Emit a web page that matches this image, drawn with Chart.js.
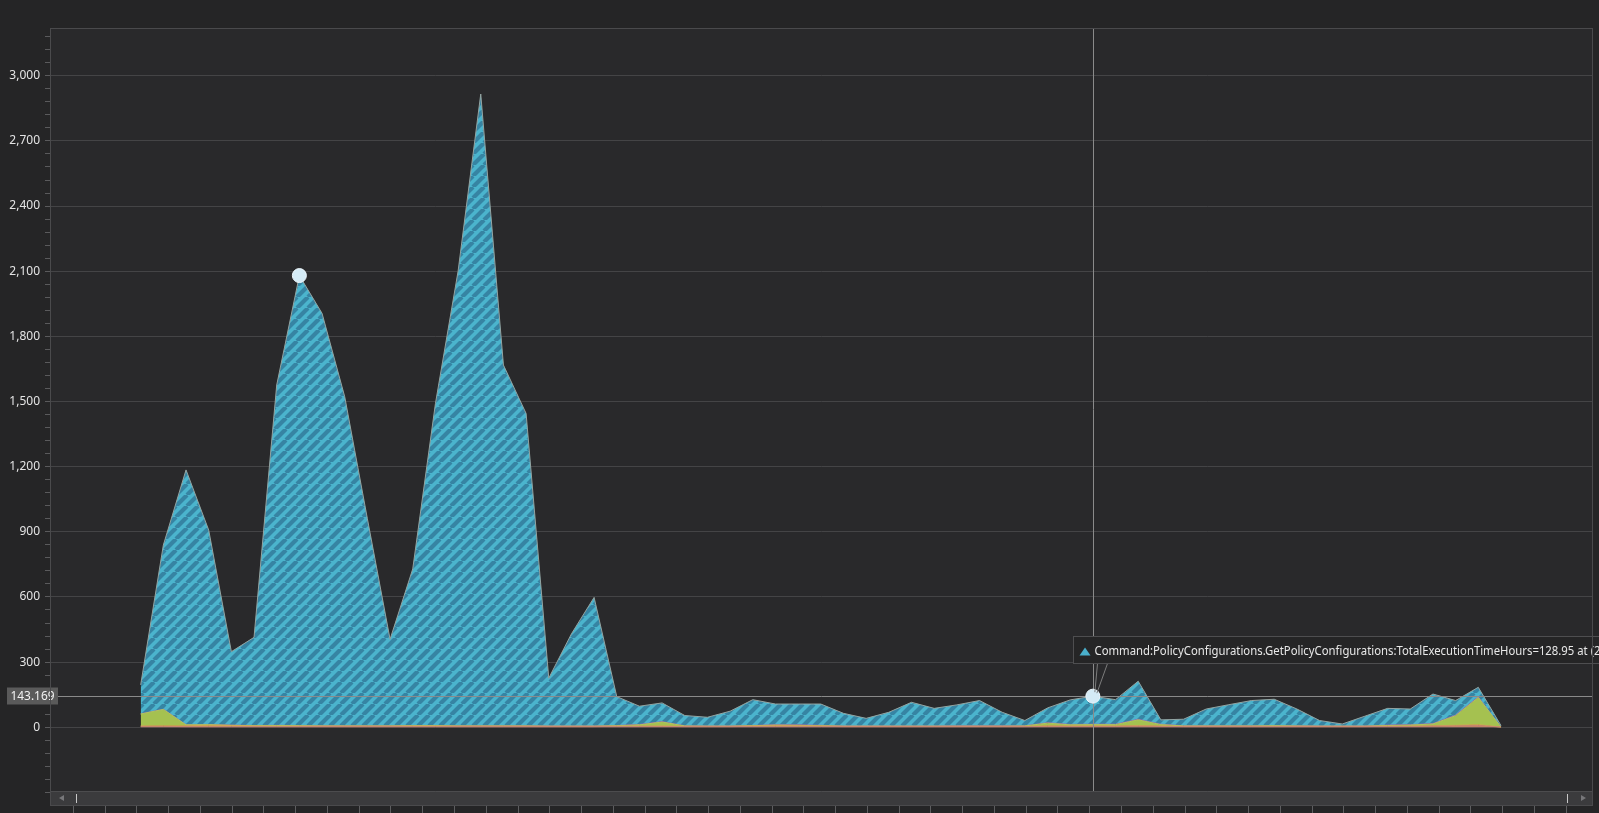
<!DOCTYPE html>
<html>
<head>
<meta charset="utf-8">
<script src="https://cdn.jsdelivr.net/npm/chart.js@4.4.0/dist/chart.umd.min.js"></script>
<style>
  html, body { margin: 0; padding: 0; background: #252526; overflow: hidden; }
  #wrap { width: 1599px; height: 813px; }
</style>
</head>
<body>
<div id="wrap"><canvas id="chart" width="1599" height="813"></canvas></div>
<script>
// stacked series, bottom to top
const salmonHours = [4,4,3,3,3,3,3,3,3,3,3,3,3,3,3,3,3,3,3,3,3,4,4,4,3,3,3,4,4,4,4,3,3,3,3,3,3,3,3,3,4,4,4.219,4,5,4,3,3,3,3,3,3,3,3,3,4,4,5,6,8,1];
const orangeHours = [2,3,4,6,5,3,2,2,2,2,2,2,3,3,2,2,2,2,1,1,1,1,1,2,1,1,1,2,3,3,2,1,1,1,1,1,1,1,1,1,3,2,2,2,3,2,1,1,1,1,1,1,1,1,1,1,1,2,3,4,0];
const greenHours = [55,75,4,3,1,1,3,2,1,1,1,1,1,1,1,1,1,1,1,1,1,2,6,18,2,1,1,1,3,2,1,1,1,1,1,1,1,1,1,2,12,5,6,6,26,6,2,2,2,2,3,2,1,1,1,3,5,8,44,125,0];
const purpleHours = [1,1,1,1,1,1,1,1,1,1,1,1,1,1,1,1,1,1,1,1,1,1,2,2,1,1,1,1,2,2,2,1,1,1,1,1,2,2,2,1,2,2,2,2,3,2,1,1,1,1,1,1,1,1,1,2,2,2,3,3,0];
const policyHours = [133,756,1173,895,338,406,1567,2072,1899,1515,953,398,721,1482,2093,2909,1661,1438,220,424,592,133,84,86,47,40,68,119,95,96,98,58,35,63,109,81,96,116,62,24,68,113,128.95,113,175,20,30,77,97,116,121,77,25,9,45,77,72,136,67,44,7];

const samples = policyHours.map((_, i) => i);
const markedPoints = [7, 42];
const crossIndex = 42;
const crossValue = 143.169;
const crossLabel = '143.169';
const tipText = 'Command:PolicyConfigurations.GetPolicyConfigurations:TotalExecutionTimeHours=128.95 at (2';
const xTickStart = -2.97;
const xTickStep = 1.401;

function hatch() {
  const p = 11;
  const c = document.createElement('canvas');
  c.width = p; c.height = p;
  const g = c.getContext('2d');
  g.fillStyle = '#4bb4cd';
  g.fillRect(0, 0, p, p);
  g.strokeStyle = '#3684a3';
  g.lineWidth = 4.2;
  g.beginPath();
  for (const o of [-p, 0, p]) { g.moveTo(o, p); g.lineTo(o + p, 0); }
  g.stroke();
  return g.createPattern(c, 'repeat');
}

function series(data, fill, border, first) {
  return {
    data: data.map((v, i) => ({ x: samples[i], y: v })),
    backgroundColor: fill,
    borderColor: border,
    borderWidth: 1,
    fill: first ? 'origin' : '-1',
    pointRadius: 0,
    tension: 0
  };
}

const frame = {
  id: 'frame',
  beforeDraw(chart) {
    const { ctx, chartArea: a } = chart;
    ctx.save();
    ctx.fillStyle = '#252526';
    ctx.fillRect(0, 0, chart.width, chart.height);
    ctx.fillStyle = '#29292b';
    ctx.fillRect(a.left, a.top, a.right - a.left, a.bottom - a.top);
    ctx.restore();
  },
  afterDatasetsDraw(chart) {
    const { ctx, chartArea: a } = chart;
    const xs = chart.scales.x, ys = chart.scales.y;
    const barTop = 791, barBottom = 805;
    const cx = Math.round(xs.getPixelForValue(crossIndex)) + 0.5;
    const cy = Math.round(ys.getPixelForValue(crossValue)) + 0.5;
    ctx.save();

    // crosshair
    ctx.strokeStyle = '#8a8a8a';
    ctx.lineWidth = 1;
    ctx.beginPath();
    ctx.moveTo(cx, a.top); ctx.lineTo(cx, barTop);
    ctx.moveTo(a.left, cy); ctx.lineTo(a.right, cy);
    ctx.stroke();

    // markers on top of the crosshair
    const meta = chart.getDatasetMeta(4);
    markedPoints.forEach(i => {
      const pt = meta.data[i];
      ctx.beginPath();
      ctx.arc(pt.x, pt.y, 7, 0, Math.PI * 2);
      ctx.fillStyle = '#d4ebf6';
      ctx.fill();
      ctx.strokeStyle = '#eef8fd';
      ctx.lineWidth = 1;
      ctx.stroke();
    });

    // value label on y axis
    ctx.fillStyle = '#5a5a5a';
    ctx.fillRect(7, cy - 9, 51, 17);
    ctx.fillStyle = '#f2f2f2';
    ctx.font = '12px "Noto Sans"';
    ctx.textAlign = 'center';
    ctx.textBaseline = 'middle';
    const lw = ctx.measureText(crossLabel).width;
    ctx.save();
    ctx.translate(32.5, cy);
    ctx.scale(Math.min(1, 44 / lw), 1);
    ctx.fillText(crossLabel, 0, 0);
    ctx.restore();

    // tooltip callout
    const mx = meta.data[crossIndex].x, my = meta.data[crossIndex].y;
    const bl = Math.round(mx - 20) + 0.5, bt = Math.round(my - 60) + 0.5, bh = 27;
    ctx.strokeStyle = '#7c7c7c';
    ctx.beginPath();
    ctx.moveTo(bl + 24, bt + bh); ctx.lineTo(mx + 2, my - 4);
    ctx.moveTo(bl + 34, bt + bh); ctx.lineTo(mx + 4, my - 3);
    ctx.stroke();
    ctx.fillStyle = '#252526';
    ctx.fillRect(bl, bt, 700, bh);
    ctx.strokeStyle = '#4e4e50';
    ctx.strokeRect(bl, bt, 700, bh);
    ctx.fillStyle = '#4ab0cc';
    ctx.beginPath();
    ctx.moveTo(bl + 6, bt + 19); ctx.lineTo(bl + 17, bt + 19); ctx.lineTo(bl + 11.5, bt + 11);
    ctx.closePath(); ctx.fill();
    ctx.font = '13px "Noto Sans"';
    ctx.textAlign = 'left';
    ctx.fillStyle = '#e8e8e8';
    const w = ctx.measureText(tipText).width;
    ctx.save();
    ctx.translate(bl + 21, bt + 15);
    ctx.scale(506 / w, 1);
    ctx.fillText(tipText, 0, 0);
    ctx.restore();

    // scrollbar
    ctx.fillStyle = '#3b3b3d';
    ctx.fillRect(a.left, barTop, a.right - a.left, barBottom - barTop);
    ctx.strokeStyle = '#4c4c4e';
    ctx.beginPath();
    ctx.moveTo(a.left, barTop + 0.5); ctx.lineTo(a.right, barTop + 0.5);
    ctx.stroke();
    ctx.fillStyle = '#77777a';
    ctx.beginPath();
    ctx.moveTo(59, 798); ctx.lineTo(64, 795); ctx.lineTo(64, 801); ctx.closePath(); ctx.fill();
    ctx.beginPath();
    ctx.moveTo(1586, 798); ctx.lineTo(1581, 795); ctx.lineTo(1581, 801); ctx.closePath(); ctx.fill();
    ctx.strokeStyle = '#c8c8c8';
    ctx.beginPath();
    ctx.moveTo(76.5, 794); ctx.lineTo(76.5, 803);
    ctx.moveTo(1567.5, 794); ctx.lineTo(1567.5, 803);
    ctx.stroke();

    // plot frame
    ctx.strokeStyle = '#4a4a4c';
    ctx.strokeRect(a.left + 0.5, a.top + 0.5, a.right - a.left - 1, a.bottom - a.top);
    ctx.restore();
  }
};

const ctx = document.getElementById('chart').getContext('2d');
new Chart(ctx, {
  type: 'line',
  data: {
    datasets: [
      series(salmonHours, '#c47e68', '#c98670', true),
      series(orangeHours, '#c9a24a', '#cfa852', false),
      series(greenHours, '#a5c150', '#b0c65c', false),
      series(purpleHours, '#8a66b2', '#9470bc', false),
      series(policyHours, hatch(), '#93a4a2', false)
    ]
  },
  options: {
    responsive: false,
    animation: false,
    layout: { autoPadding: false, padding: { top: 28, right: 6, left: 0, bottom: 0 } },
    plugins: { legend: { display: false }, tooltip: { enabled: false } },
    scales: {
      x: {
        type: 'linear',
        min: -4,
        max: 64.06,
        border: { display: false },
        grid: { drawOnChartArea: false, color: '#5e5e60', tickLength: 8 },
        ticks: { display: false, autoSkip: false },
        afterBuildTicks(scale) {
          const t = [];
          for (let v = xTickStart; v <= scale.max; v += xTickStep) t.push({ value: v });
          scale.ticks = t;
        },
        afterFit(scale) { scale.height = 8; }
      },
      y: {
        stacked: true,
        min: -358,
        max: 3220,
        border: { display: false },
        grid: {
          color: c => (c.tick && c.tick.value % 300 === 0) ? '#444446' : 'rgba(0,0,0,0)',
          tickColor: '#5a5a5c',
          tickLength: 5
        },
        ticks: {
          stepSize: 60,
          autoSkip: false,
          includeBounds: false,
          padding: 5,
          color: '#e4e4e4',
          font: { family: 'Noto Sans', size: 12 },
          callback: v => (v >= 0 && v % 300 === 0) ? v.toLocaleString('en-US') : ''
        },
        afterFit(scale) {
          scale.width = 50;
          scale.paddingTop = 0;
          scale.paddingBottom = 0;
        }
      }
    }
  },
  plugins: [frame]
});
</script>
</body>
</html>
